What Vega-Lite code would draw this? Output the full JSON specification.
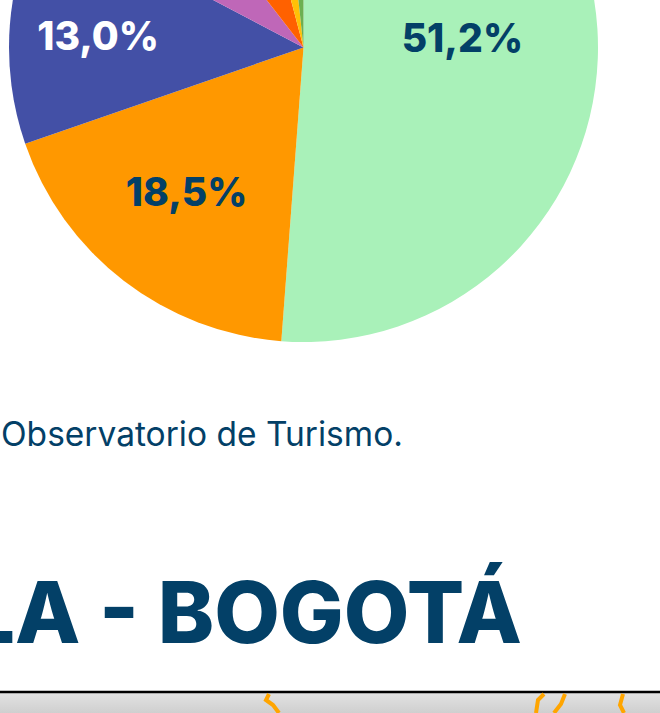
{"$schema":"https://vega.github.io/schema/vega-lite/v6.json","width":607,"height":95,"padding":{"left":0,"top":0,"right":53,"bottom":618},"autosize":{"type":"none"},"background":"white","config":{"view":{"stroke":null}},
"layer":[
{"data":{"values":[{"s":"Sin dato A","v":51.2,"i":1,"label":"51,2%"},{"s":"Sin dato B","v":18.5,"i":2,"label":"18,5%"},{"s":"Sin dato C","v":13.0,"i":3,"label":"13,0%"},{"s":"Sin dato D","v":6.8,"i":4,"label":""},{"s":"Sin dato E","v":6.4,"i":5,"label":""},{"s":"Sin dato F","v":2.4,"i":6,"label":""},{"s":"Sin dato G","v":1.7,"i":7,"label":""}]},
"layer":[
{"mark":{"type":"arc","outerRadius":294.5},"encoding":{"theta":{"field":"v","type":"quantitative","stack":true},"order":{"field":"i"},"color":{"field":"i","type":"nominal","legend":null,"scale":{"domain":[1,2,3,4,5,6,7],"range":["#A9F1B9","#FF9800","#4350A6","#BF67B8","#FF6100","#FFC107","#6CB050"]}}}},
{"mark":{"type":"text","font":"Inter","fontWeight":800,"fontSize":39,"align":"center","baseline":"middle","radius":{"expr":"datum.i==1?159:datum.i==2?185:206"},"dx":{"expr":"datum.i==2?-4:0"},"dy":{"expr":"datum.i==1?-13:datum.i==3?6:0"}},"encoding":{"theta":{"field":"v","type":"quantitative","stack":true},"order":{"field":"i"},"text":{"field":"label"},"color":{"condition":{"test":"datum.i==3","value":"#FFFFFF"},"value":"#034067"}}}
]},
{"data":{"values":[{}]},"layer":[
{"mark":{"type":"text","text":"Observatorio de Turismo.","font":"Inter","fontSize":33.5,"fontWeight":400,"align":"left","baseline":"alphabetic","color":"#034067"},"encoding":{"x":{"datum":1,"type":"quantitative","axis":null,"scale":{"domain":[0,660],"range":[0,660],"nice":false}},"y":{"datum":446,"type":"quantitative","axis":null,"scale":{"domain":[0,713],"range":[0,713],"nice":false}}}},
{"mark":{"type":"text","text":"LA - BOGOTÁ","font":"Inter","fontSize":85,"fontWeight":800,"align":"right","baseline":"alphabetic","color":"#034067"},"encoding":{"x":{"datum":522,"type":"quantitative","axis":null,"scale":{"domain":[0,660],"range":[0,660],"nice":false}},"y":{"datum":643,"type":"quantitative","axis":null,"scale":{"domain":[0,713],"range":[0,713],"nice":false}}}},
{"mark":{"type":"rect","color":{"x1":0,"y1":0,"x2":0,"y2":1,"gradient":"linear","stops":[{"offset":0,"color":"#E2E2E2"},{"offset":1,"color":"#CFCFCF"}]}},"encoding":{"x":{"datum":0,"type":"quantitative","axis":null,"scale":{"domain":[0,660],"range":[0,660],"nice":false}},"x2":{"datum":660},"y":{"datum":693,"type":"quantitative","axis":null,"scale":{"domain":[0,713],"range":[0,713],"nice":false}},"y2":{"datum":713}}},
{"mark":{"type":"rule","color":"#000000","strokeWidth":2.5},"encoding":{"x":{"datum":0,"type":"quantitative","axis":null,"scale":{"domain":[0,660],"range":[0,660],"nice":false}},"x2":{"datum":660},"y":{"datum":692,"type":"quantitative","axis":null,"scale":{"domain":[0,713],"range":[0,713],"nice":false}}}}
]},
{"data":{"values":[{"g":"a","o":1,"px":269,"py":694},{"g":"a","o":2,"px":266,"py":700},{"g":"a","o":3,"px":273,"py":705},{"g":"a","o":4,"px":279,"py":713},{"g":"b","o":1,"px":544,"py":694},{"g":"b","o":2,"px":538,"py":700},{"g":"b","o":3,"px":536,"py":713},{"g":"c","o":1,"px":565,"py":694},{"g":"c","o":2,"px":561,"py":704},{"g":"c","o":3,"px":554,"py":713},{"g":"d","o":1,"px":623,"py":694},{"g":"d","o":2,"px":620,"py":705},{"g":"d","o":3,"px":624,"py":713}]},
"mark":{"type":"line","color":"#FFA500","strokeWidth":4},"encoding":{"x":{"field":"px","type":"quantitative","axis":null,"scale":{"domain":[0,660],"range":[0,660],"nice":false}},"y":{"field":"py","type":"quantitative","axis":null,"scale":{"domain":[0,713],"range":[0,713],"nice":false}},"detail":{"field":"g"},"order":{"field":"o"}}}
]}
